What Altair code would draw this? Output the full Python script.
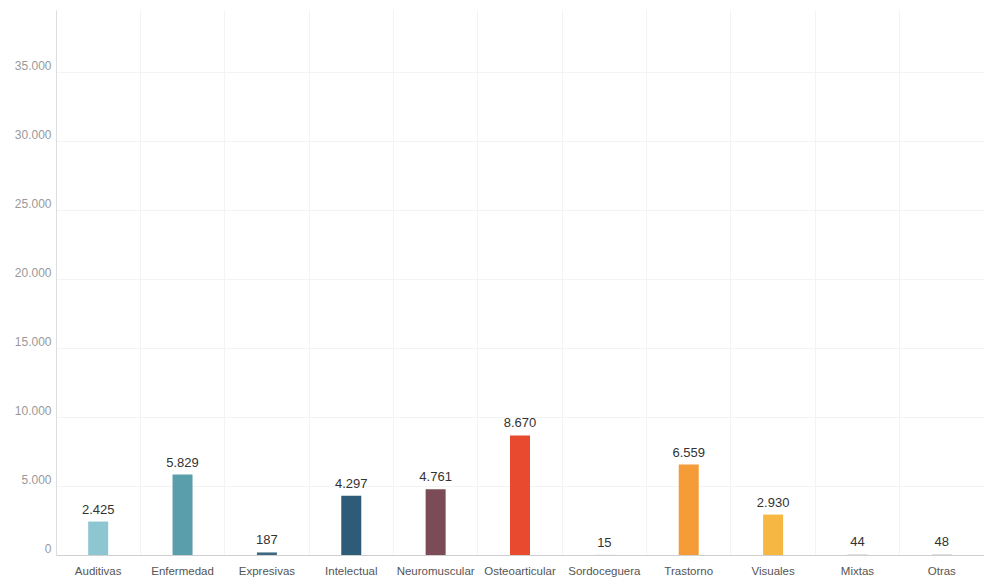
import altair as alt
import pandas as pd

categories = ["Auditivas", "Enfermedad", "Expresivas", "Intelectual", "Neuromuscular",
              "Osteoarticular", "Sordoceguera", "Trastorno", "Visuales", "Mixtas", "Otras"]
values = [2425, 5829, 187, 4297, 4761, 8670, 15, 6559, 2930, 44, 48]
colors = ["#8dc6d0", "#5b9eab", "#3d6a82", "#2d5b78", "#7b4b57", "#e84a2f",
          "#c9d3d8", "#f59b38", "#f6b843", "#cfcfcf", "#cfcfcf"]
y_ticks = [0, 5000, 10000, 15000, 20000, 25000, 30000, 35000]

df = pd.DataFrame({
    "cat": categories,
    "val": values,
    "label": [f"{v:,}".replace(",", ".") for v in values],
})

W, H = 928, 545

x = alt.X("cat:N", sort=categories, title=None,
          scale=alt.Scale(paddingInner=0, paddingOuter=0),
          axis=alt.Axis(labelAngle=0, grid=True, gridColor="#f3f3f3", bandPosition=0,
                        ticks=False, domainColor="#cfcfcf",
                        labelFont="Liberation Sans", labelFontSize=11.5,
                        labelColor="#555555", labelPadding=10))
y = alt.Y("val:Q", title=None,
          scale=alt.Scale(domain=[0, 39500], nice=False),
          axis=alt.Axis(values=y_ticks, ticks=False, gridColor="#f3f3f3",
                        domainColor="#dddddd", labelColor="#999999",
                        labelFont="Liberation Sans", labelFontSize=12, labelOffset=-7,
                        labelPadding=5,
                        labelExpr="replace(format(datum.value, ','), ',', '.')"))

bars = alt.Chart(df).mark_bar(size=20).encode(
    x=x, y=y,
    color=alt.Color("cat:N", sort=categories,
                    scale=alt.Scale(domain=categories, range=colors), legend=None),
)
text = alt.Chart(df).mark_text(dy=-12, font="Liberation Sans", fontSize=13,
                               color="#333333").encode(
    x=alt.X("cat:N", sort=categories), y="val:Q", text="label:N")

chart = (bars + text).properties(
    width=W, height=H,
    padding={"left": 56, "top": 10, "right": 0, "bottom": 25},
    autosize=alt.AutoSizeParams(type="none"),
).configure_view(stroke=None)

chart.save("out.html", embed_options={"renderer": "svg", "actions": False})
